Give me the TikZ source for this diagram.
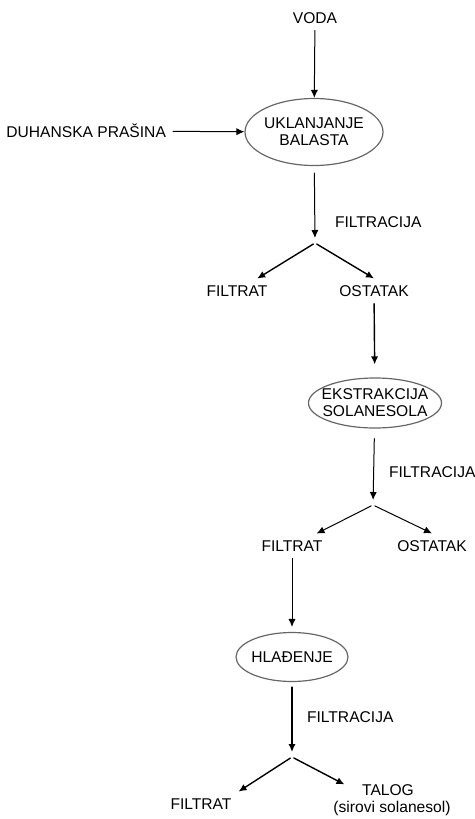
\documentclass[tikz,border=0pt]{standalone}
\usepackage{fontspec}
\setmainfont{Liberation Sans}
\usetikzlibrary{shapes.geometric,arrows.meta}

\tikzset{
	proces/.style={ellipse, draw=black!60, line width=0.6pt, inner xsep=-5pt, inner ysep=0pt, align=center},
	tok/.style={->, line width=0.5pt},
	debeli/.style={line width=0.7pt}
}

\begin{document}
\begin{tikzpicture}[x=0.5pt,y=-0.5pt,cap=round,>={Latex[length=4pt,width=3.6pt]},font=\fontsize{7.8}{8.5}\selectfont]
	\useasboundingbox (0,0) rectangle (475,819);

	\node (voda) at (315,18) {VODA};
	\node [proces, minimum width=69pt, minimum height=33.5pt] (balast) at (314,132) {UKLANJANJE\\BALASTA};
	\node [anchor=east] (prasina) at (173,131) {DUHANSKA PRAŠINA};

	\node [anchor=west] (filtr1) at (328,222) {FILTRACIJA};
	\coordinate (r1) at (315,243);
	\node (filtrat1) at (237,291) {FILTRAT};
	\node (ostatak1) at (374,291) {OSTATAK};

	\node [proces, minimum width=66.5pt, minimum height=25pt] (ekstr) at (375,403) {EKSTRAKCIJA\\SOLANESOLA};

	\node [anchor=west] (filtr2) at (382,472) {FILTRACIJA};
	\coordinate (r2) at (373,505);
	\node (filtrat2) at (292,546) {FILTRAT};
	\node (ostatak2) at (432,546) {OSTATAK};

	\node [proces, minimum width=56pt, minimum height=24.5pt] (hladenje) at (292,657) {HLAĐENJE};

	\node [anchor=west] (filtr3) at (300,717) {FILTRACIJA};
	\coordinate (r3) at (292,757);
	\node (filtrat3) at (201,804) {FILTRAT};
	\node (talog) at (388,790) {TALOG};
	\node (sirovi) at (392,808) {(sirovi solanesol)};

	\draw [tok] (voda) -- (balast);
	\draw [tok] (prasina) -- (balast);
	\draw [tok, shorten <=3.5pt, shorten >=2.5pt] (balast) -- (r1);
	\draw [tok, debeli, shorten <=1pt] (r1) -- (filtrat1);
	\draw [tok, debeli, shorten <=1pt] (r1) -- (ostatak1.north);
	\draw [tok, debeli, shorten >=6.5pt] (ostatak1) -- (ekstr);

	\draw [tok, shorten <=5pt, shorten >=2.5pt] (ekstr) -- (r2);
	\draw [tok, shorten <=1pt] (r2) -- (filtrat2);
	\draw [tok, shorten <=1pt] (r2) -- (ostatak2.north);
	\draw [tok, shorten >=2.5pt] (filtrat2) -- (hladenje);

	\draw [tok, debeli, shorten <=2.5pt, shorten >=2.5pt] (hladenje) -- (r3);
	\draw [tok, debeli, shorten <=1pt] (r3) -- (filtrat3.north east);
	\draw [tok, debeli, shorten <=1pt, shorten >=6pt] (r3) -- (talog.west);
\end{tikzpicture}
\end{document}
